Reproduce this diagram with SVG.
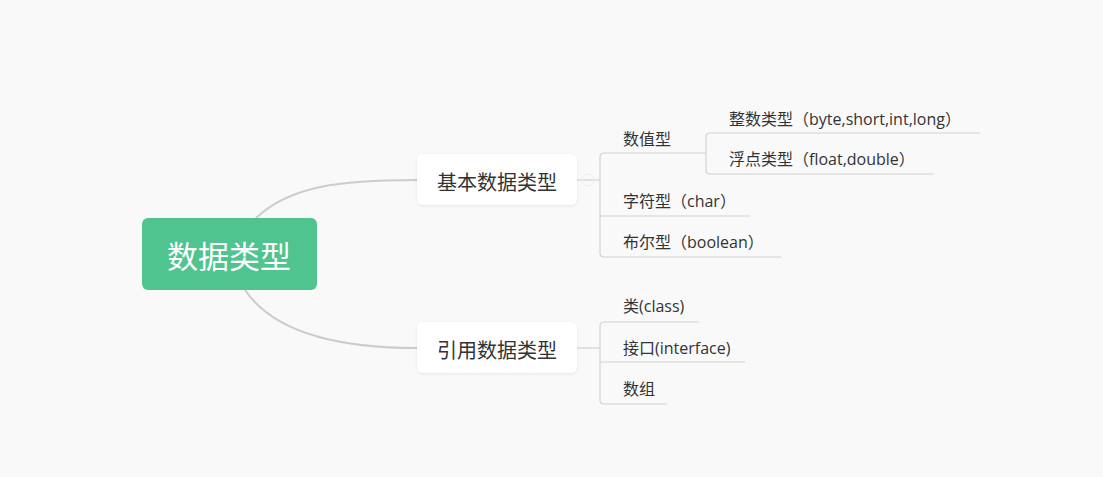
<svg xmlns="http://www.w3.org/2000/svg" width="1103" height="477" viewBox="0 0 1103 477">
<defs>
<filter id="sh" x="-10%" y="-20%" width="120%" height="150%">
<feDropShadow dx="0" dy="1" stdDeviation="1.5" flood-color="#000" flood-opacity="0.08"/>
</filter>
<style>
.t{font-family:"Open Sans","Noto Sans CJK SC",sans-serif;fill:#333;}
.c{font-size:16px;}
.m{font-size:20px;text-anchor:middle;dominant-baseline:central;}
.r{font-size:31px;fill:#fff;text-anchor:middle;dominant-baseline:central;}
.main{fill:none;stroke:#cccccc;stroke-width:2;}
.br{fill:none;stroke:#d2d2d2;stroke-width:1.2;}
.node{fill:#fff;filter:url(#sh);}
</style>
</defs>
<rect width="1103" height="477" fill="#f9f9f9"/>
<g id="connectors">
<path class="main" d="M256,218 C290,186 340,180 417,180"/>
<path class="main" d="M245,290 C275,334 340,348 417,348"/>
<path class="br" d="M577,180 L600,180"/>
<circle cx="588" cy="180" r="6" fill="none" stroke="#eeeeee" stroke-width="1"/>
<path class="br" d="M706,153 L604,153 Q600,153 600,157 L600,253 Q600,257 604,257 L781,257"/>
<path class="br" d="M600,216 L750,216"/>
<path class="br" d="M980,133 L710,133 Q706,133 706,137 L706,170 Q706,174 710,174 L933,174"/>
<path class="br" d="M577,348 L600,348"/>
<path class="br" d="M699,322 L604,322 Q600,322 600,326 L600,400 Q600,404 604,404 L667,404"/>
<path class="br" d="M600,362 L745,362"/>
</g>
<g id="root">
<rect x="142" y="218" width="175" height="72" rx="6" fill="#50c48e"/>
<text class="t r" x="229" y="256">数据类型</text>
</g>
<g id="basic">
<rect class="node" x="417" y="154" width="160" height="51" rx="6"/>
<text class="t m" x="497" y="182">基本数据类型</text>
</g>
<g id="ref">
<rect class="node" x="417" y="322" width="160" height="51" rx="6"/>
<text class="t m" x="497" y="350">引用数据类型</text>
</g>
<g id="numeric"><text class="t c" x="623" y="145">数值型</text></g>
<g id="integer"><text class="t c" x="729" y="125">整数类型（byte,short,int,long）</text></g>
<g id="float"><text class="t c" x="729" y="165">浮点类型（float,double）</text></g>
<g id="char"><text class="t c" x="623" y="207">字符型（char）</text></g>
<g id="boolean"><text class="t c" x="623" y="248">布尔型（boolean）</text></g>
<g id="class"><text class="t c" x="623" y="312">类(class)</text></g>
<g id="interface"><text class="t c" x="623" y="354">接口(interface)</text></g>
<g id="array"><text class="t c" x="623" y="395">数组</text></g>
</svg>
